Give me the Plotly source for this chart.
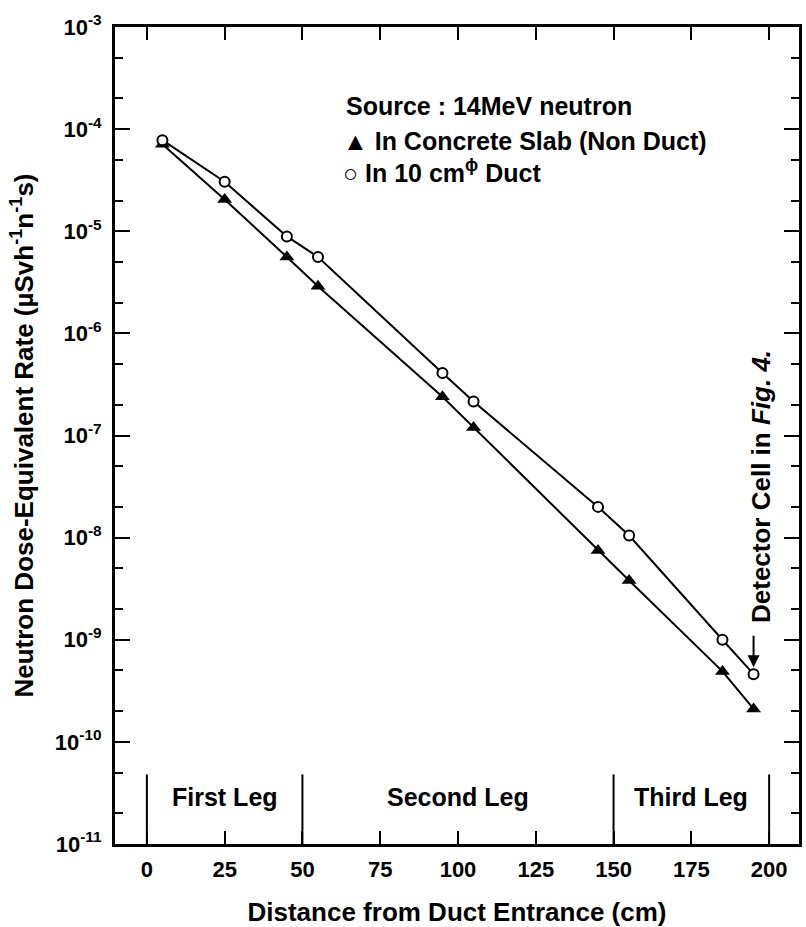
import numpy as np
import plotly.graph_objects as go

# Distance from the duct entrance (cm)
distance = [5, 25, 45, 55, 95, 105, 145, 155, 185, 195]
# Dose-equivalent rate in the concrete slab without a duct (uSv h^-1 n^-1 s)
slab_rate = [7.1e-5, 2.05e-5, 5.6e-6, 2.9e-6, 2.4e-7, 1.2e-7, 7.5e-9, 3.8e-9, 4.9e-10, 2.1e-10]
# Dose-equivalent rate inside the 10 cm diameter duct
duct_rate = [7.8e-5, 3.05e-5, 8.9e-6, 5.6e-6, 4.1e-7, 2.15e-7, 2.0e-8, 1.05e-8, 1.0e-9, 4.6e-10]

# Duct leg boundaries and names
leg_bounds = [0, 50, 150, 200]
leg_names = ["First Leg", "Second Leg", "Third Leg"]

x_ticks = [0, 25, 50, 75, 100, 125, 150, 175, 200]
y_exponents = [-11, -10, -9, -8, -7, -6, -5, -4, -3]
y_ticks = [10.0 ** e for e in y_exponents]
y_ticktext = [f"10<sup>{e}</sup>" for e in y_exponents]

FONT = "Liberation Sans"
BLACK = "#000000"


def bold(size):
    return dict(family=FONT, size=size, color=BLACK, weight="bold")


fig = go.Figure()

# Leg divider lines along the bottom of the plot
divider_top = 4.8e-11
for xb in leg_bounds:
    fig.add_trace(go.Scatter(
        x=[xb, xb], y=[1e-11, divider_top], mode="lines",
        line=dict(color=BLACK, width=2), showlegend=False, hoverinfo="skip"))

fig.add_trace(go.Scatter(
    x=distance, y=slab_rate, mode="lines+markers", name="In Concrete Slab (Non Duct)",
    line=dict(color=BLACK, width=2),
    marker=dict(symbol="triangle-up", size=13, color=BLACK),
    showlegend=False))

fig.add_trace(go.Scatter(
    x=distance, y=duct_rate, mode="lines+markers", name="In 10 cm Duct",
    line=dict(color=BLACK, width=2),
    marker=dict(symbol="circle", size=10, color="white", line=dict(color=BLACK, width=2)),
    showlegend=False))

annotations = []
# Leg names centred in each segment
for i, name in enumerate(leg_names):
    xm = 0.5 * (leg_bounds[i] + leg_bounds[i + 1])
    annotations.append(dict(
        x=xm, y=np.log10(2.9e-11), xref="x", yref="y", text=name, showarrow=False,
        font=bold(25)))

# Key text block
key_lines = [
    ("Source : 14MeV neutron", 0.9034, 0.3348),
    ("▲ In Concrete Slab (Non Duct)", 0.8606, 0.3304),
    ("○ In 10 cm<sup>ϕ</sup> Duct", 0.8240, 0.3304),
]
for text, yp, xp in key_lines:
    annotations.append(dict(
        x=xp, y=yp, xref="paper", yref="paper", text=text, showarrow=False,
        xanchor="left", yanchor="middle", font=bold(25)))

# Detector label with an arrow pointing at the last duct point
annotations.append(dict(
    x=distance[-1], y=np.log10(duct_rate[-1]), xref="x", yref="y", text="",
    showarrow=True, arrowhead=2, arrowsize=1.2, arrowwidth=2, arrowcolor=BLACK,
    ax=0, ay=-40, standoff=7))
annotations.append(dict(
    x=197.2, y=-7.50, xref="x", yref="y", text="Detector Cell in <i>Fig. 4.</i>",
    textangle=-90, showarrow=False, xanchor="center", yanchor="middle",
    font=bold(26)))

fig.update_layout(
    width=806, height=927,
    margin=dict(l=115, r=4, t=27, b=82),
    paper_bgcolor="white", plot_bgcolor="white",
    font=bold(20),
    annotations=annotations,
    showlegend=False,
)

fig.update_xaxes(
    range=[-10.24, 209.6],
    tickvals=x_ticks, ticktext=[str(v) for v in x_ticks],
    ticks="inside", ticklen=13, tickwidth=2, tickcolor=BLACK,
    showline=True, linewidth=3, linecolor=BLACK, mirror="ticks",
    showgrid=False, zeroline=False,
    tickfont=bold(22), ticklabelstandoff=4,
    title=dict(text="Distance from Duct Entrance (cm)", standoff=22, font=bold(26)),
)

fig.update_yaxes(
    type="log", range=[-11, -3],
    tickvals=y_ticks, ticktext=y_ticktext,
    ticks="inside", ticklen=15, tickwidth=2, tickcolor=BLACK,
    minor=dict(ticks="inside", ticklen=8, tickwidth=1.5, tickcolor=BLACK, showgrid=False),
    showline=True, linewidth=3, linecolor=BLACK, mirror="ticks",
    showgrid=False, zeroline=False,
    tickfont=bold(22), ticklabelstandoff=6,
    title=dict(text="Neutron Dose-Equivalent Rate (µSvh<sup>-1</sup>n<sup>-1</sup>s)", standoff=14,
               font=bold(26)),
)

fig.write_html("out.html")
